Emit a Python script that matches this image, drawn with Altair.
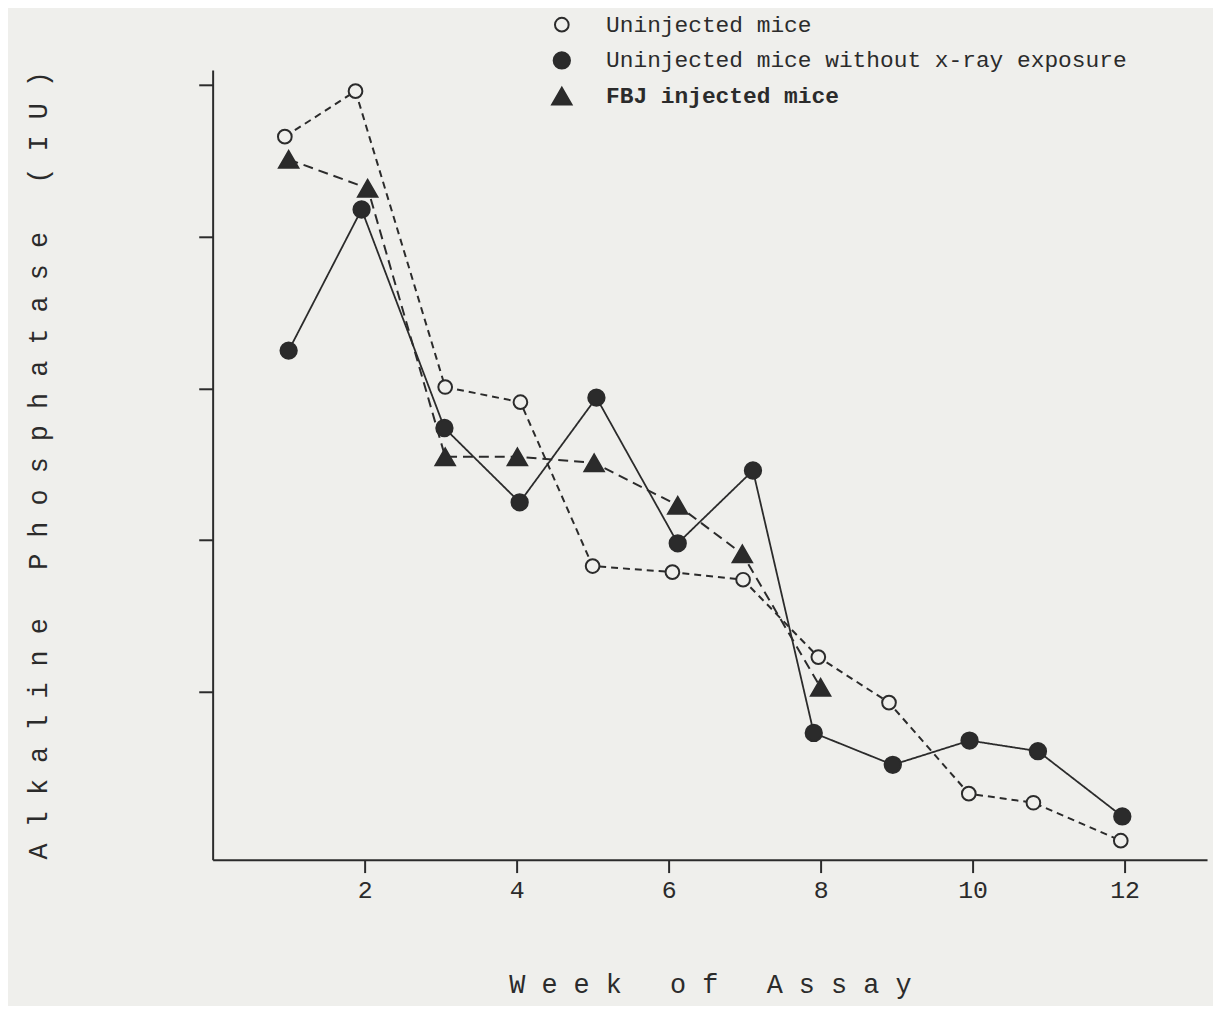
import altair as alt
import pandas as pd

series_names = [
    "Uninjected mice",
    "Uninjected mice without x-ray exposure",
    "FBJ injected mice",
]

open_weeks = [0.95, 1.88, 3.06, 4.05, 5.0, 6.05, 6.98, 7.97, 8.9, 9.95, 10.8, 11.95]
open_values = [4.66, 4.96, 3.01, 2.91, 1.83, 1.79, 1.74, 1.23, 0.93, 0.33, 0.27, 0.02]

filled_weeks = [1.0, 1.96, 3.05, 4.04, 5.05, 6.12, 7.11, 7.91, 8.95, 9.96, 10.86, 11.97]
filled_values = [3.25, 4.18, 2.74, 2.25, 2.94, 1.98, 2.46, 0.73, 0.52, 0.68, 0.61, 0.18]

tri_weeks = [1.0, 2.04, 3.06, 4.01, 5.02, 6.12, 6.97, 8.0]
tri_values = [4.51, 4.32, 2.55, 2.55, 2.51, 2.23, 1.91, 1.03]

x_ticks = [2, 4, 6, 8, 10, 12]
y_ticks = [1, 2, 3, 4, 5]

x_title = "W e e k   o f   A s s a y".replace(" ", "\u00a0")
y_title = "A l k a l i n e   P h o s p h a t a s e   ( I U )".replace(" ", "\u00a0")

PAPER = "#efefec"
INK = "#2b2b2b"
FONT = "Liberation Mono"

rows = []
for name, ws, vs in [
    (series_names[0], open_weeks, open_values),
    (series_names[1], filled_weeks, filled_values),
    (series_names[2], tri_weeks, tri_values),
]:
    for i, (w, v) in enumerate(zip(ws, vs)):
        rows.append({"series": name, "week": w, "value": v, "order": i})
df = pd.DataFrame(rows)

x_enc = alt.X(
    "week:Q",
    scale=alt.Scale(domain=[0, 13.085], nice=False, zero=False),
    axis=alt.Axis(
        values=x_ticks,
        format="d",
        title=x_title,
        titlePadding=70,
        labelPadding=5,
        tickSize=13,
    ),
)
y_enc = alt.Y(
    "value:Q",
    scale=alt.Scale(domain=[-0.105, 5.10], nice=False, zero=False),
    axis=alt.Axis(
        values=y_ticks,
        labels=False,
        title=y_title,
        titlePadding=146,
        tickSize=14,
    ),
)

base = alt.Chart(df)


def line_layer(name, dash, width):
    return (
        base.transform_filter(alt.datum.series == name)
        .mark_line(color=INK, strokeWidth=width, strokeDash=dash)
        .encode(x=x_enc, y=y_enc, order="order:Q")
    )


line_open = line_layer(series_names[0], [7, 5], 2)
line_filled = line_layer(series_names[1], [1, 0], 1.8)
line_tri = line_layer(series_names[2], [10, 6], 2)

points = base.mark_point(
    strokeWidth=2, opacity=1, fillOpacity=1
).encode(
    x="week:Q",
    y="value:Q",
    shape=alt.Shape(
        "series:N",
        scale=alt.Scale(domain=series_names, range=["circle", "circle", "triangle-up"]),
        title=None,
    ),
    fill=alt.Fill(
        "series:N",
        scale=alt.Scale(domain=series_names, range=[PAPER, INK, INK]),
        title=None,
    ),
    stroke=alt.Stroke(
        "series:N",
        scale=alt.Scale(domain=series_names, range=[INK, INK, INK]),
        title=None,
    ),
    size=alt.Size(
        "series:N",
        scale=alt.Scale(type="ordinal", domain=series_names, range=[190, 270, 380]),
        title=None,
    ),
)

chart = (
    alt.layer(line_open, line_filled, line_tri, points)
    .properties(
        width=1001,
        height=795,
        autosize=alt.AutoSizeParams(type="none"),
        padding={"left": 206, "top": 59, "right": 6, "bottom": 144},
        background=PAPER,
    )
    .configure_view(stroke=None)
    .configure_legend(
        orient="none",
        legendX=340,
        legendY=-57,
        padding=0,
        labelFont=FONT,
        labelFontSize=23,
        labelColor=INK,
        labelLimit=600,
        labelOffset=33,
        labelFontWeight={"expr": "datum.label == 'FBJ injected mice' ? 'bold' : 'normal'"},
        symbolStrokeWidth=2,
        rowPadding=11,
    )
    .configure_axis(
        domainColor=INK,
        domainWidth=2,
        tickColor=INK,
        tickWidth=2,
        grid=False,
        labelFont=FONT,
        labelFontSize=25,
        labelColor=INK,
        titleFont=FONT,
        titleFontSize=27,
        titleFontWeight="normal",
        titleColor=INK,
    )
)

chart.save("out.html", embed_options={"renderer": "svg", "actions": False})
